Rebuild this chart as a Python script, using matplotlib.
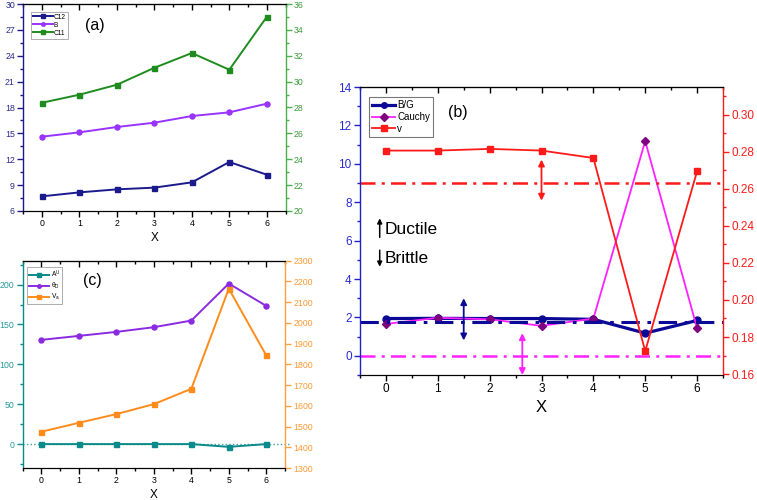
import matplotlib
matplotlib.use("Agg")
import matplotlib.pyplot as plt
from matplotlib.ticker import MultipleLocator, FixedLocator

plt.rcParams['font.family'] = ['Liberation Sans', 'DejaVu Sans']
plt.rcParams['mathtext.fontset'] = 'custom'
plt.rcParams['mathtext.rm'] = 'Liberation Sans'
plt.rcParams['mathtext.it'] = 'Liberation Sans:italic'

# ---------------- data ----------------
x = [0, 1, 2, 3, 4, 5, 6]
x_ticks = [0, 1, 2, 3, 4, 5, 6]

# panel (a)
c12 = [7.70, 8.16, 8.51, 8.71, 9.32, 11.68, 10.21]
bulk = [14.62, 15.12, 15.74, 16.24, 17.01, 17.44, 18.44]
c11 = [28.37, 28.99, 29.76, 31.07, 32.21, 30.92, 35.0]

# panel (b)
bg = [1.94, 1.95, 1.94, 1.94, 1.90, 1.18, 1.84]
cauchy = [1.66, 1.98, 1.90, 1.56, 1.94, 11.18, 1.44]
poisson = [0.2806, 0.2806, 0.2815, 0.2806, 0.2766, 0.1724, 0.2694]
bg_crit = 1.75
poisson_crit_left = 9.0
cauchy_crit = 0.0

# panel (c)
au = [0, 0, 0, 0, 0, -3.5, 0]
theta_d = [130.7, 135.7, 140.7, 146.6, 154.9, 201.3, 173.3]
va = [1475, 1518, 1560, 1608, 1682, 2165, 1843]

W, H = 757, 500
fig = plt.figure(figsize=(W / 100, H / 100), dpi=100)


def rect(l, t, r, b):
    return [l / W, 1 - b / H, (r - l) / W, (b - t) / H]


def setup_x(ax, lab_size, xlab_size, labelpad):
    ax.set_xlim(-0.5, 6.5)
    ax.xaxis.set_major_locator(FixedLocator(x_ticks))
    ax.xaxis.set_minor_locator(MultipleLocator(0.5))
    ax.tick_params(axis='x', which='major', direction='out', length=4, width=1,
                   labelsize=lab_size, pad=2, top=False)
    ax.tick_params(axis='x', which='minor', direction='out', length=2, width=1, top=False)
    ax.set_xlabel('X', fontsize=xlab_size, labelpad=labelpad)
    sec = ax.secondary_xaxis('top')
    sec.xaxis.set_major_locator(FixedLocator(x_ticks))
    sec.xaxis.set_minor_locator(MultipleLocator(0.5))
    sec.tick_params(axis='x', which='major', direction='in', length=4, width=1, labeltop=False)
    sec.tick_params(axis='x', which='minor', direction='in', length=2, width=1)


def color_y(ax, side, col, labcol, lab_size):
    ax.spines[side].set_color(col)
    ax.spines[side].set_linewidth(1.0)
    ax.tick_params(axis='y', which='both', colors=col, labelcolor=labcol, direction='out',
                   labelsize=lab_size, pad=2)
    ax.tick_params(axis='y', which='major', length=4, width=1)
    ax.tick_params(axis='y', which='minor', length=2, width=1)


SMALL = 6.3

# ---------------- panel (a) ----------------
navy = '#1a1a8c'
purple_a = '#9933ff'
green = '#1e8c1e'
axA = fig.add_axes(rect(23.3, 4, 285.5, 211))
axA.plot(x, c12, '-s', color=navy, lw=1.4, ms=3.6, label='C12')
axA.plot(x, bulk, '-o', color=purple_a, lw=1.4, ms=3.6, label='B')
axA.set_ylim(6, 30)
axA.yaxis.set_major_locator(MultipleLocator(3))
axA.yaxis.set_minor_locator(MultipleLocator(1.5))
color_y(axA, 'left', navy, '#2a2a8a', SMALL)
setup_x(axA, SMALL, 8.5, 3)
axA2 = axA.twinx()
axA2.plot(x, c11, '-s', color=green, lw=1.4, ms=3.6, label='C11')
axA2.set_ylim(20, 36)
axA2.yaxis.set_major_locator(MultipleLocator(2))
axA2.yaxis.set_minor_locator(MultipleLocator(1))
color_y(axA2, 'right', '#4caf4c', '#3a9a3a', SMALL)
axA2.spines['left'].set_visible(False)
axA.spines['right'].set_visible(False)
hA = axA.get_legend_handles_labels()[0] + axA2.get_legend_handles_labels()[0]
lA = axA.get_legend_handles_labels()[1] + axA2.get_legend_handles_labels()[1]
legA = axA2.legend(hA, lA, loc='upper left', bbox_to_anchor=(0.028, 0.963), fontsize=4.8,
                   frameon=True, fancybox=False, edgecolor='#888888', handlelength=3,
                   handletextpad=0.2, borderpad=0.3, labelspacing=0.15, borderaxespad=0,
                   markerscale=0.7)
legA.get_frame().set_linewidth(0.6)
axA.text(1.42, 27.5, '(a)', fontsize=11.5, ha='center', va='center')

# ---------------- panel (b) ----------------
blue_axis = '#2020c8'
bg_col = '#0a0a96'
mag = '#ff22ff'
dpurple = '#800080'
red = '#ff1a1a'
axB = fig.add_axes(rect(360, 87, 723, 375))
axB.plot(x, bg, '-o', color=bg_col, lw=2.3, ms=5, label='B/G')
axB.plot(x, cauchy, '-D', color=mag, mfc=dpurple, mec=dpurple, lw=1.3, ms=4.5, label='Cauchy')
axB.axhline(bg_crit, color=bg_col, lw=2.2, ls=(0, (6, 2.5, 1.2, 2.5)))
axB.axhline(cauchy_crit, color=mag, lw=1.8, ls=(0, (6, 2.5, 1.2, 2.5)))
axB.axhline(poisson_crit_left, color=red, lw=1.8, ls=(0, (6, 2.5, 1.2, 2.5)))
axB.set_ylim(-1, 14)
axB.yaxis.set_major_locator(MultipleLocator(2))
axB.yaxis.set_minor_locator(MultipleLocator(1))
color_y(axB, 'left', blue_axis, '#2b2bd0', 8.5)
setup_x(axB, 8.5, 12, 3)
axB2 = axB.twinx()
axB2.plot(x, poisson, '-s', color=red, lw=1.3, ms=5, label='v')
axB2.set_ylim(0.1595, 0.3149)
axB2.yaxis.set_major_locator(MultipleLocator(0.02))
axB2.yaxis.set_minor_locator(MultipleLocator(0.01))
axB2.yaxis.set_major_formatter(matplotlib.ticker.FormatStrFormatter('%.2f'))
color_y(axB2, 'right', red, red, 8.5)
axB2.spines['left'].set_visible(False)
axB.spines['right'].set_visible(False)

arrow_kw = dict(arrowstyle='<|-|>', mutation_scale=9, lw=1.3, shrinkA=0, shrinkB=0)
axB.annotate('', xy=(3, 10.22), xytext=(3, 8.08), arrowprops=dict(color=red, **arrow_kw))
axB.annotate('', xy=(1.5, 3.0), xytext=(1.5, 0.8), arrowprops=dict(color=bg_col, **arrow_kw))
axB.annotate('', xy=(2.63, 1.18), xytext=(2.63, -1.0), arrowprops=dict(color=mag, **arrow_kw))
one_kw = dict(arrowstyle='-|>', mutation_scale=7, lw=1.1, shrinkA=0, shrinkB=0, color='black')
axB.annotate('', xy=(-0.12, 7.16), xytext=(-0.12, 6.17), arrowprops=one_kw)
axB.annotate('', xy=(-0.12, 4.64), xytext=(-0.12, 5.5), arrowprops=one_kw)
axB.text(-0.03, 6.6, 'Ductile', fontsize=12.5, ha='left', va='center')
axB.text(-0.03, 5.05, 'Brittle', fontsize=12.5, ha='left', va='center')
axB.text(1.39, 12.67, '(b)', fontsize=11.5, ha='center', va='center')
hB = axB.get_legend_handles_labels()[0] + axB2.get_legend_handles_labels()[0]
lB = axB.get_legend_handles_labels()[1] + axB2.get_legend_handles_labels()[1]
legB = axB2.legend(hB, lB, loc='upper left', bbox_to_anchor=(0.025, 0.965), fontsize=7,
                   frameon=True, fancybox=False, edgecolor='#555555', handlelength=2.4,
                   handletextpad=0.2, borderpad=0.3, labelspacing=0.2, borderaxespad=0,
                   markerscale=0.8)
legB.get_frame().set_linewidth(0.8)

# ---------------- panel (c) ----------------
teal = '#0a8a8a'
purple_c = '#8a2be2'
orange = '#ff8c1a'
axC = fig.add_axes(rect(22.7, 260.7, 285, 468))
axC.plot([-0.6, 6.6], [0, 0], ls=':', color='#3aa0a0', lw=1.0, clip_on=False)
axC.plot(x, au, '-s', color=teal, lw=1.4, ms=3.6, label=r'A$^{\mathrm{U}}$')
axC.plot(x, theta_d, '-o', color=purple_c, lw=1.4, ms=3.6, label=r'θ$_{\mathrm{D}}$')
axC.set_ylim(-30, 230)
axC.yaxis.set_major_locator(MultipleLocator(50))
axC.yaxis.set_minor_locator(MultipleLocator(25))
color_y(axC, 'left', teal, '#2a9a9a', SMALL)
setup_x(axC, SMALL, 8.5, 3)
axC2 = axC.twinx()
axC2.plot(x, va, '-s', color=orange, lw=1.4, ms=3.6, label=r'V$_{\mathrm{a}}$')
axC2.set_ylim(1300, 2300)
axC2.yaxis.set_major_locator(MultipleLocator(100))
color_y(axC2, 'right', '#ffa040', '#ff9933', SMALL)
axC2.spines['left'].set_visible(False)
axC.spines['right'].set_visible(False)
hC = axC.get_legend_handles_labels()[0] + axC2.get_legend_handles_labels()[0]
lC = axC.get_legend_handles_labels()[1] + axC2.get_legend_handles_labels()[1]
legC = axC2.legend(hC, lC, loc='upper left', bbox_to_anchor=(0.018, 0.971), fontsize=4.8,
                   frameon=True, fancybox=False, edgecolor='#888888', handlelength=3,
                   handletextpad=0.2, borderpad=0.3, labelspacing=0.15, borderaxespad=0,
                   markerscale=0.7)
legC.get_frame().set_linewidth(0.6)
axC.text(1.37, 205, '(c)', fontsize=11.5, ha='center', va='center')

fig.savefig('out.png', dpi=100)
